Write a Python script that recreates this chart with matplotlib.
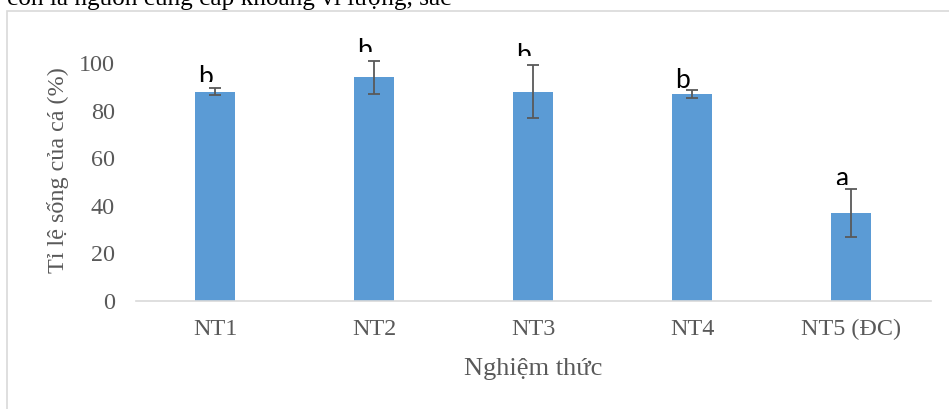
import matplotlib
matplotlib.use("Agg")
import matplotlib.pyplot as plt
from matplotlib.patches import Rectangle
from matplotlib.transforms import Bbox, TransformedBbox

# Data
categories = ["NT1", "NT2", "NT3", "NT4", "NT5 (ĐC)"]
survival = [88, 94, 88, 87, 37]
errors = [1.5, 7, 11, 1.5, 10]
letters = ["b", "b", "b", "b", "a"]
y_ticks = [0, 20, 40, 60, 80, 100]

ylabel = "Tỉ lệ sống của cá (%)"
xlabel = "Nghiệm thức"
header_text = "còn là nguồn cung cấp khoáng vi lượng, sắc"

BAR_COLOR = "#5B9BD5"
TEXT_GRAY = "#595959"
LINE_GRAY = "#D9D9D9"
SERIF = ["Liberation Serif", "DejaVu Serif"]

W, H = 949, 409
fig = plt.figure(figsize=(W / 100, H / 100), dpi=100)

# frame around the chart (runs off the right and bottom edges)
fig.patches.append(Rectangle((7 / W, -0.1), 1.2, 1 - 11.5 / H + 0.1,
                             transform=fig.transFigure, fill=False,
                             edgecolor=LINE_GRAY, linewidth=1.2))

# cut-off line of body text above the chart
fig.text(7 / W, 1 - 5.5 / H, header_text, family=SERIF, fontsize=18.2,
         color="black", ha="left", va="baseline")

ax = fig.add_axes([135.5 / W, 108 / H, 795 / W, 238 / H])
x = list(range(len(categories)))
ax.bar(x, survival, width=0.25, color=BAR_COLOR, zorder=2)
eb = ax.errorbar(x, survival, yerr=errors, fmt="none", ecolor=TEXT_GRAY,
                 elinewidth=1.3, capsize=4.5, capthick=1.3, zorder=3)
for art in eb.lines[1] + eb.lines[2]:
    art.set_clip_on(False)

ax.set_xlim(-0.5, len(categories) - 0.5)
ax.set_ylim(0, 100)
ax.set_yticks(y_ticks)
ax.set_xticks(x)
ax.set_xticklabels(categories)
for side in ["top", "right", "left"]:
    ax.spines[side].set_visible(False)
ax.spines["bottom"].set_color(LINE_GRAY)
ax.spines["bottom"].set_linewidth(1.2)
ax.tick_params(axis="both", length=0, colors=TEXT_GRAY, labelsize=17.4)
ax.tick_params(axis="y", pad=15)
ax.tick_params(axis="x", pad=13)
for lab in ax.get_xticklabels() + ax.get_yticklabels():
    lab.set_family(SERIF)

# significance letters (the "b" glyphs are partly cut off in the original)
cut = [1.4, 2.6, 2.6, 0, 0.5]
for xi, m, e, s, c in zip(x, survival, errors, letters, cut):
    base = m + e + 1.2
    t = ax.text(xi - 0.06, base, s, family=["Lato", "DejaVu Sans"],
                fontsize=19, color="black", ha="center", va="baseline")
    t.set_clip_path(None)
    t.set_clip_box(TransformedBbox(Bbox([[xi - 0.5, base + c], [xi + 0.5, 130]]),
                                   ax.transData))
    t.set_clip_on(True)

fig.text(533 / W, 1 - 375 / H, xlabel, family=SERIF, fontsize=19,
         color=TEXT_GRAY, ha="center", va="baseline")
fig.text(58 / W, 1 - 170 / H, ylabel, family=SERIF, fontsize=17.4,
         color=TEXT_GRAY, ha="center", va="center", rotation=90)

fig.savefig("out.png", dpi=100)
